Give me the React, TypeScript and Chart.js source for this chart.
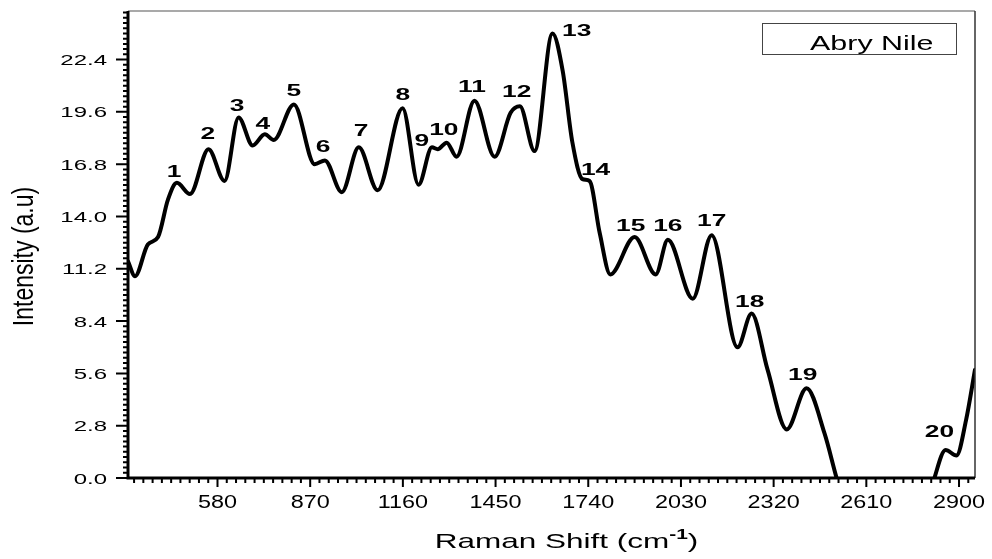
import React, { useEffect, useRef } from "react";
import { Chart, registerables } from "chart.js";

Chart.register(...registerables);

// ---- data ----
const ramanShift: number[] = [
  300, 322, 362, 394, 425, 453, 494, 552, 602, 646, 690, 728, 756, 819, 884, 916,
  969, 1022, 1081, 1159, 1209, 1251, 1269, 1297, 1328, 1384, 1447, 1497, 1526, 1572,
  1628, 1660, 1690, 1722, 1744, 1776, 1809, 1885, 1951, 1989, 2067, 2126, 2207,
  2251, 2301, 2361, 2423, 2479, 2517, 2560, 2650, 2750, 2800, 2823, 2858, 2892, 2922, 2950,
];
const intensity: number[] = [
  11.6, 10.8, 12.5, 12.9, 14.9, 15.8, 15.2, 17.6, 15.9, 19.3, 17.8, 18.4, 18.1, 20.0, 16.8, 17.0,
  15.3, 17.7, 15.4, 19.8, 15.7, 17.7, 17.6, 17.95, 17.2, 20.2, 17.2, 19.55, 19.9, 17.5,
  23.8, 21.8, 18.0, 16.0, 15.9, 13.1, 10.9, 12.9, 10.9, 12.75, 9.6, 13.0, 7.0,
  8.8, 5.8, 2.6, 4.8, 2.4, 0, -2.5, -5, -4, -1.5, 0, 1.5, 1.2, 3.1, 5.8,
];

const peakLabels: string[] = [
  "1", "2", "3", "4", "5", "6", "7", "8", "9", "10",
  "11", "12", "13", "14", "15", "16", "17", "18", "19", "20",
];
const peakLabelX: number[] = [
  444, 550, 641, 722, 819, 910, 1029, 1160, 1219, 1288,
  1376, 1516, 1704, 1763, 1873, 1989, 2126, 2245, 2411, 2839,
];
const peakLabelY: number[] = [
  16.35, 18.38, 19.88, 18.92, 20.69, 17.68, 18.54, 20.47, 18.0, 18.6,
  20.9, 20.63, 23.9, 16.45, 13.45, 13.5, 13.72, 9.43, 5.52, 2.47,
];

const xTickValues: number[] = [580, 870, 1160, 1450, 1740, 2030, 2320, 2610, 2900];
const yTickValues: number[] = [0, 2.8, 5.6, 8.4, 11.2, 14.0, 16.8, 19.6, 22.4];
const yTickLabels: string[] = ["0.0", "2.8", "5.6", "8.4", "11.2", "14.0", "16.8", "19.6", "22.4"];

const seriesName = "Abry Nile";
const xTitle = "Raman Shift (cm";
const xTitleSup = "-1";
const yTitle = "Intensity (a.u)";

const X_MIN = 300;
const X_MAX = 2950;
const Y_MIN = 0;
const Y_MAX = 25;
const X_MINOR = 29;
const Y_MINOR = 0.28;

const FONT = '"Liberation Sans", Arial, Helvetica, sans-serif';

function stretchText(
  ctx: CanvasRenderingContext2D,
  text: string,
  x: number,
  y: number,
  font: string,
  sx: number,
  align: CanvasTextAlign,
  baseline: CanvasTextBaseline = "alphabetic"
) {
  ctx.save();
  ctx.translate(x, y);
  ctx.scale(sx, 1);
  ctx.font = font;
  ctx.textAlign = align;
  ctx.textBaseline = baseline;
  ctx.fillStyle = "#000";
  ctx.fillText(text, 0, 0);
  ctx.restore();
}

const decorPlugin = {
  id: "decor",
  afterDraw(chart: any) {
    const ctx: CanvasRenderingContext2D = chart.ctx;
    const { left, right, top, bottom } = chart.chartArea;
    const xs = chart.scales.x;
    const ys = chart.scales.y;
    ctx.save();

    // frame top/right
    ctx.lineWidth = 1.5;
    ctx.strokeStyle = "#8c8c8c";
    ctx.beginPath();
    ctx.moveTo(left, top);
    ctx.lineTo(right, top);
    ctx.stroke();
    ctx.strokeStyle = "#333";
    ctx.beginPath();
    ctx.moveTo(right, top);
    ctx.lineTo(right, bottom);
    ctx.stroke();

    // ticks
    ctx.strokeStyle = "#000";
    ctx.lineWidth = 2;
    ctx.beginPath();
    for (let k = -20; k <= 100; k++) {
      const v = 580 + X_MINOR * k;
      if (v < X_MIN || v > X_MAX) continue;
      const px = xs.getPixelForValue(v);
      const major = k % 10 === 0;
      ctx.moveTo(px, bottom);
      ctx.lineTo(px, bottom + (major ? 9 : 5));
    }
    for (let k = 0; k <= 100; k++) {
      const v = Y_MINOR * k;
      if (v > Y_MAX + 1e-6) break;
      const py = ys.getPixelForValue(v);
      const major = k % 10 === 0;
      ctx.moveTo(left, py);
      ctx.lineTo(left - (major ? 12 : 5), py);
    }
    ctx.stroke();

    // axes lines
    ctx.lineWidth = 3;
    ctx.beginPath();
    ctx.moveTo(left, top);
    ctx.lineTo(left, bottom + 1.5);
    ctx.moveTo(left - 1.5, bottom);
    ctx.lineTo(right, bottom);
    ctx.stroke();

    // tick labels
    xTickValues.forEach((v) => {
      stretchText(ctx, String(v), xs.getPixelForValue(v), bottom + 30, `18px ${FONT}`, 1.3, "center");
    });
    yTickValues.forEach((v, i) => {
      stretchText(ctx, yTickLabels[i], left - 21, ys.getPixelForValue(v) + 5.5, `15px ${FONT}`, 1.6, "right");
    });

    // peak labels
    peakLabels.forEach((t, i) => {
      stretchText(
        ctx,
        t,
        xs.getPixelForValue(peakLabelX[i]),
        ys.getPixelForValue(peakLabelY[i]),
        `bold 17px ${FONT}`,
        1.55,
        "center",
        "middle"
      );
    });

    // legend box
    ctx.lineWidth = 1;
    ctx.strokeStyle = "#444";
    ctx.strokeRect(right - 213 + 0.5, top + 12 + 0.5, 194, 31);
    stretchText(ctx, seriesName, right - 165, top + 39, `21px ${FONT}`, 1.45, "left");

    // x title with superscript
    const sx = 1.5;
    ctx.font = `21px ${FONT}`;
    const w1 = ctx.measureText(xTitle).width * sx;
    const w3 = ctx.measureText(")").width * sx;
    ctx.font = `bold 14px ${FONT}`;
    const w2 = ctx.measureText(xTitleSup).width * sx;
    const total = w1 + w2 + w3;
    const cx = (left + right) / 2 + 15;
    const base = bottom + 70;
    const start = cx - total / 2;
    stretchText(ctx, xTitle, start, base, `21px ${FONT}`, sx, "left");
    stretchText(ctx, xTitleSup, start + w1, base - 9, `bold 14px ${FONT}`, sx, "left");
    stretchText(ctx, ")", start + w1 + w2, base, `21px ${FONT}`, sx, "left");

    // y title rotated
    ctx.save();
    ctx.translate(33, (top + bottom) / 2 + 12);
    ctx.rotate(-Math.PI / 2);
    ctx.scale(1, 1.25);
    ctx.font = `23px ${FONT}`;
    ctx.textAlign = "center";
    ctx.textBaseline = "alphabetic";
    ctx.fillStyle = "#000";
    ctx.fillText(yTitle, 0, 0);
    ctx.restore();

    ctx.restore();
  },
};

export default function App() {
  const canvasRef = useRef<HTMLCanvasElement | null>(null);

  useEffect(() => {
    if (!canvasRef.current) return;
    const points = ramanShift.map((x, i) => ({ x, y: intensity[i] }));
    const chart = new Chart(canvasRef.current, {
      type: "line",
      data: {
        datasets: [
          {
            label: seriesName,
            data: points,
            borderColor: "#000",
            backgroundColor: "#000",
            borderWidth: 4,
            pointRadius: 0,
            cubicInterpolationMode: "monotone",
            borderCapStyle: "round",
            borderJoinStyle: "round",
            fill: false,
          },
        ],
      },
      options: {
        animation: false,
        responsive: false,
        devicePixelRatio: 1,
        layout: { padding: { top: 11, right: 17, left: 0, bottom: 0 } },
        plugins: { legend: { display: false }, tooltip: { enabled: false } },
        scales: {
          x: {
            type: "linear",
            min: X_MIN,
            max: X_MAX,
            ticks: { display: false },
            grid: { display: false },
            border: { display: false },
            afterFit: (s: any) => {
              s.height = 81;
            },
          },
          y: {
            type: "linear",
            min: Y_MIN,
            max: Y_MAX,
            ticks: { display: false },
            grid: { display: false },
            border: { display: false },
            afterFit: (s: any) => {
              s.width = 128;
            },
          },
        },
      },
      plugins: [decorPlugin],
    } as any);
    return () => chart.destroy();
  }, []);

  return (
    <div style={{ position: "fixed", left: 0, top: 0, width: 992, height: 559, background: "#fff" }}>
      <canvas ref={canvasRef} width={992} height={559} style={{ display: "block" }} />
    </div>
  );
}
